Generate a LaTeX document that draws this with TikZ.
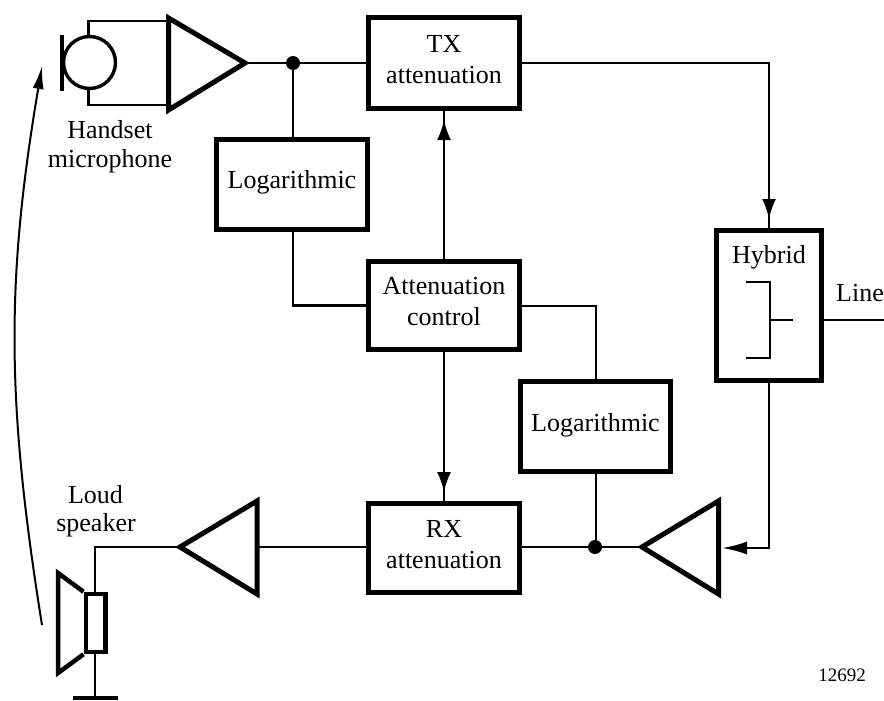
\documentclass[tikz,border=0pt]{standalone}
\usepackage{fontspec}
\setmainfont{Liberation Serif}
\usetikzlibrary{arrows.meta,calc}
\newcommand{\padlow}[1]{\rule[-#1pt]{0pt}{#1pt}}
\tikzset{
  x=1pt,y=-1pt,
  blockbox/.style={draw,line width=5pt,inner sep=0pt,align=center,font=\fontsize{26}{31}\selectfont},
  wire/.style={line width=2.4pt},
  thin wire/.style={line width=2pt},
  heavy/.style={line width=5pt,line join=miter},
  arrowed/.style={line width=2.4pt,-{Latex[length=20pt,width=14pt]},shorten >=9pt},
  junction/.style={circle,fill=black,inner sep=0pt,minimum size=14pt},
  lbl/.style={inner sep=0pt,align=center,font=\fontsize{26}{31}\selectfont},
}
\begin{document}
\begin{tikzpicture}
\useasboundingbox (0,0) rectangle (884,701);
% blocks
\node[blockbox,minimum width=151pt,minimum height=91pt] (tx) at (444,63) {TX\\attenuation\padlow{8}};
\node[blockbox,minimum width=151pt,minimum height=90pt] (logl) at (292,184.5) {Logarithmic\padlow{10}};
\node[blockbox,minimum width=151pt,minimum height=88pt] (ctrl) at (444,305.5) {Attenuation\\control\padlow{9}};
\node[blockbox,minimum width=150pt,minimum height=90pt] (logr) at (595.5,426.5) {Logarithmic\padlow{8.5}};
\node[blockbox,minimum width=151pt,minimum height=89pt] (rx) at (444,548) {RX\\attenuation\padlow{8}};
\node[draw,line width=5pt,minimum width=105pt,minimum height=150pt,inner sep=0pt] (hyb) at (769,305.5) {};
\node[lbl] (hybt) at (769,257) {Hybrid};
% amplifiers
\coordinate (a1tip) at (245,63);
\coordinate (a1top) at (168.5,21);
\coordinate (a1bot) at (168.5,105);
\draw[heavy] (168.5,18) -- (a1tip) -- (168.5,110) -- cycle;
\coordinate (a2tip) at (180,547);
\coordinate (a2base) at (257,547);
\draw[heavy] (a2tip) -- (257,501) -- (257,594) -- cycle;
\coordinate (a3tip) at (642,547);
\coordinate (a3base) at (722,548);
\draw[heavy] (a3tip) -- (718.5,501) -- (718.5,594) -- cycle;
% microphone
\node[draw,circle,line width=3.4pt,minimum size=52pt,inner sep=0pt] (mic) at (89.5,62.5) {};
\draw[line width=4.4pt] (61.7,35) -- (61.7,91);
\draw[wire] (mic.north -| 88.5,0) -- (88.5,21) -- (a1top);
\draw[wire] (mic.south -| 88.5,0) -- (88.5,105) -- (a1bot);
% speaker
\node[draw,line width=4.5pt,minimum width=19.5pt,minimum height=58pt,inner sep=0pt] (spk) at (95.5,623) {};
\draw[line width=4.5pt,line join=miter] (spk.north west) -- (58,573) -- (58,673) -- (spk.south west);
\coordinate (gnd) at (95,698);
\draw[line width=4.5pt] (73,698) -- (118,698);
\draw[thin wire] (spk.south -| gnd) -- (gnd);
\draw[thin wire] (spk.north -| gnd) -- (gnd |- a2tip) -- (a2tip);
% hybrid inner
\coordinate (hb) at (770,320);
\draw[line width=2.8pt,line join=miter] (746,282) -| (770,358) -- (746,358);
\draw[thin wire] (hb) -- (793,320);
\coordinate (lineend) at (884,320);
\draw[thin wire] (hyb.east |- hb) -- (lineend);
\node[lbl] (linet) at (860,293) {Line};
% connectors
\node[junction] (j1) at (293,63) {};
\node[junction] (j2) at (595,547) {};
\draw[wire] (a1tip) -- (j1) -- (tx.west |- j1);
\draw[wire] (j1) -- (logl.north -| j1);
\draw[wire] (logl.south -| j1) -- (j1 |- ctrl.west) -- (ctrl.west);
\draw[wire] (ctrl.north) -- (tx.south);
\draw[arrowed] (ctrl.north) -- (tx.south);
\draw[wire] (ctrl.south) -- (rx.north);
\draw[arrowed] (ctrl.south) -- (rx.north);
\draw[wire] (tx.east) -| (hyb.north);
\draw[arrowed] (tx.east) -| (hyb.north);
\draw[thin wire] (ctrl.east) -| (logr.north);
\draw[thin wire] (logr.south) -- (logr.south |- j2);
\draw[wire] (a3tip) -- (j2) -- (rx.east |- j2);
\draw[wire] (rx.west |- a2base) -- (a2base);
\draw[line width=2.4pt,-{Latex[length=25pt,width=13pt]}] (hyb.south) |- (a3base);
% handover arrow
\coordinate (ca) at (42,625);
\coordinate (cb) at (42,66);
\draw[line width=2pt,-{Latex[length=23pt,width=11pt]}] (ca) .. controls (6,400) and (6,280) .. (cb);
% labels
\node[lbl] (t1) at (110,130) {Handset};
\node[lbl] (t2) at (110,161) {microphone};
\node[lbl] (t3) at (95.5,495) {Loud};
\node[lbl] (t4) at (96,525) {speaker};
\node[inner sep=0pt,font=\fontsize{19}{21}\selectfont] (t5) at (842,675) {12692};
\end{tikzpicture}
\end{document}
